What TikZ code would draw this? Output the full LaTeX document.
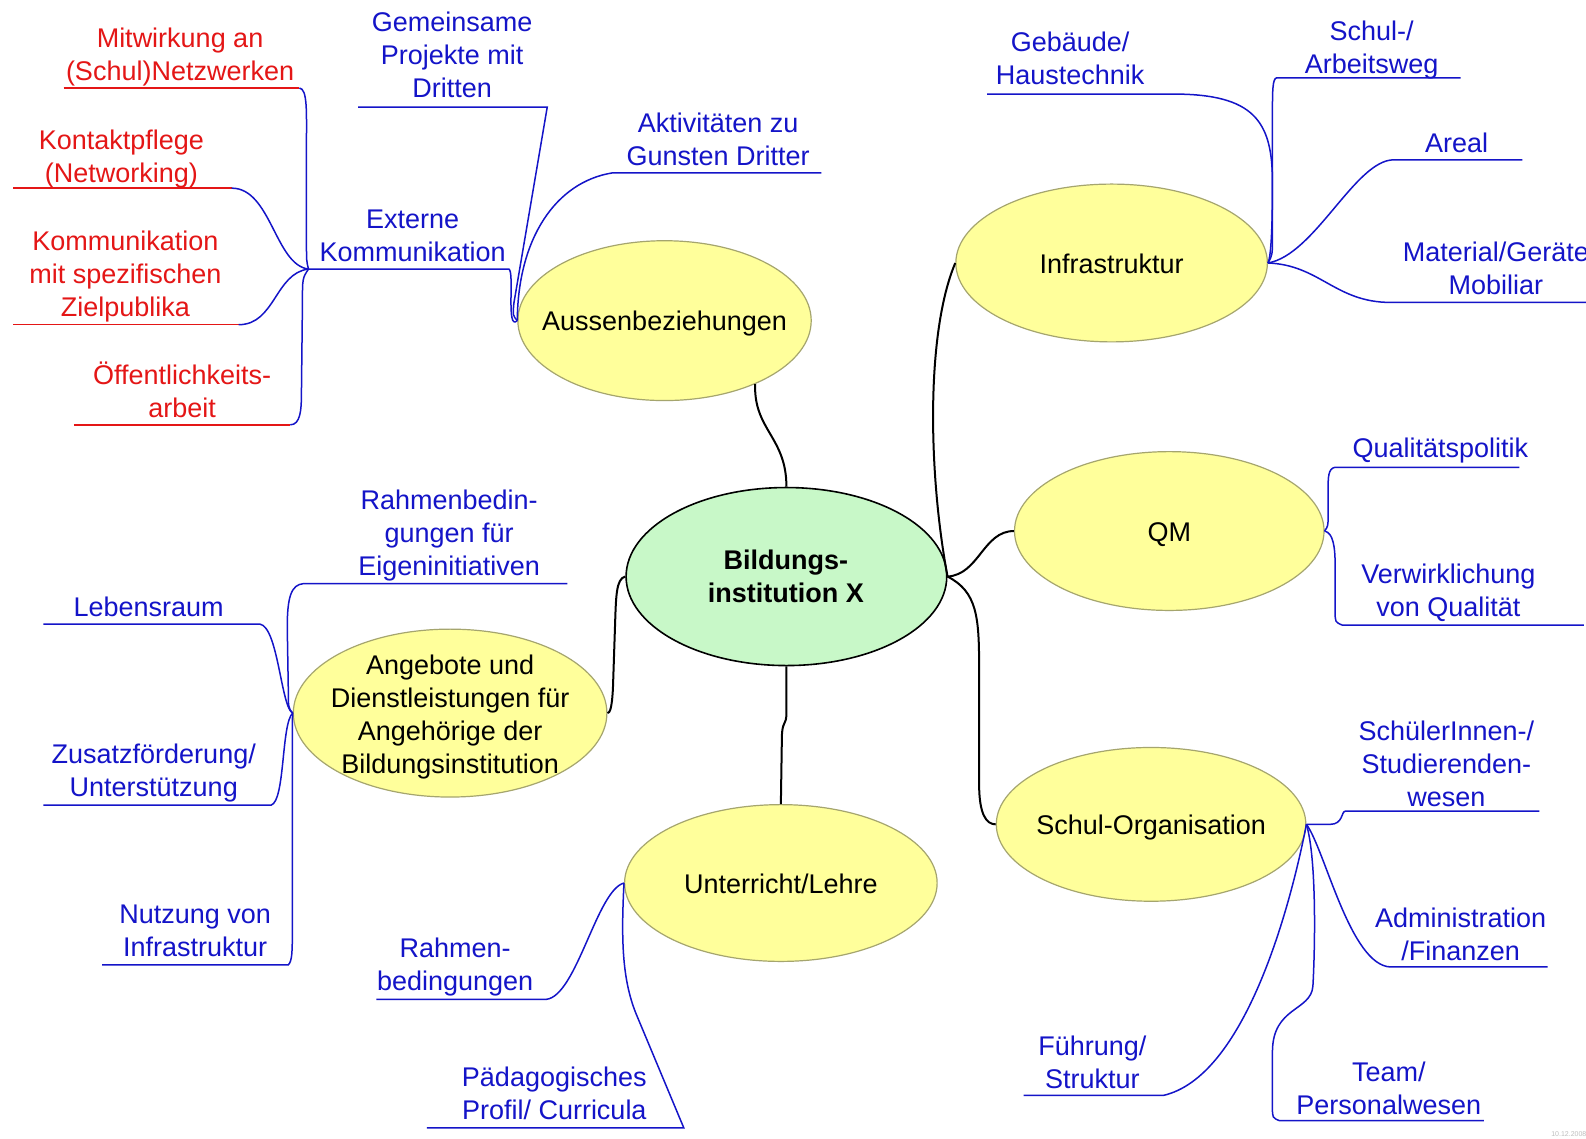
\documentclass[tikz,border=0pt]{standalone}
\usepackage{fontspec}
\setmainfont{Liberation Sans}
\usetikzlibrary{shapes.geometric}
\newcommand\pxu{0.50575pt}
\newcommand\lstrut{\rule{0pt}{13.5pt}}
\definecolor{mmblue}{RGB}{20,20,200}
\definecolor{mmred}{RGB}{228,22,22}
\definecolor{yfill}{RGB}{255,255,155}
\definecolor{ybord}{RGB}{165,165,110}
\definecolor{gfill}{RGB}{200,248,200}
\tikzset{
  topic/.style={ellipse, draw=ybord, fill=yfill, line width=0.6pt, inner sep=0pt},
  centre/.style={ellipse, draw=black, fill=gfill, line width=0.8pt, inner sep=0pt},
  lbl/.style={align=center, inner sep=0pt, anchor=north, font=\fontsize{13.5pt}{16.5pt}\selectfont},
  bl/.style={lbl, text=mmblue},
  rd/.style={lbl, text=mmred},
  bk/.style={lbl, text=black},
  bline/.style={draw=mmblue, line width=0.75pt},
  rline/.style={draw=mmred, line width=0.75pt},
  kline/.style={draw=black, line width=1pt},
}
\begin{document}
\begin{tikzpicture}[x=\pxu, y=-\pxu]
\useasboundingbox (0,0) rectangle (1568,1126);
\fill[white] (0,0) rectangle (1568,1126);

% ellipses
\node[centre, minimum width=317*\pxu, minimum height=176*\pxu] (cen) at (777.5,570) {};
\node[topic, minimum width=290*\pxu, minimum height=158*\pxu] (aus) at (657,317) {};
\node[topic, minimum width=308*\pxu, minimum height=156*\pxu] (inf) at (1099,260) {};
\node[topic, minimum width=306*\pxu, minimum height=157*\pxu] (qm) at (1156,525) {};
\node[topic, minimum width=306*\pxu, minimum height=152*\pxu] (org) at (1138,815) {};
\node[topic, minimum width=309*\pxu, minimum height=155*\pxu] (unt) at (772,873) {};
\node[topic, minimum width=310*\pxu, minimum height=166*\pxu] (ang) at (445,705) {};

% ellipse texts
\node[bk, font=\fontsize{13.5pt}{16.5pt}\selectfont\bfseries] (tcen) at (777,536) {\lstrut Bildungs-\\institution X};
\node[bk] (taus) at (657,300) {\lstrut Aussenbeziehungen};
\node[bk] (tinf) at (1099,243) {\lstrut Infrastruktur};
\node[bk] (tqm) at (1156,508) {\lstrut QM};
\node[bk] (torg) at (1138,798) {\lstrut Schul-Organisation};
\node[bk] (tunt) at (772,856) {\lstrut Unterricht/Lehre};
\node[bk] (tang) at (445,640) {\lstrut Angebote und\\Dienstleistungen für\\Angehörige der\\Bildungsinstitution};

% labels
\node[rd] (mit) at (178,20) {\lstrut Mitwirkung an\\(Schul)Netzwerken};
\node[rd] (kon) at (120,121) {\lstrut Kontaktpflege\\(Networking)};
\node[rd] (kom) at (124,221) {\lstrut Kommunikation\\mit spezifischen\\Zielpublika};
\node[rd] (oef) at (180,353) {\lstrut Öffentlichkeits-\\arbeit};
\node[bl] (gem) at (447,4) {\lstrut Gemeinsame\\Projekte mit\\Dritten};
\node[bl] (akt) at (710,104) {\lstrut Aktivitäten zu\\Gunsten Dritter};
\node[bl] (ext) at (408,199) {\lstrut Externe\\Kommunikation};
\node[bl] (geb) at (1058,24) {\lstrut Gebäude/\\Haustechnik};
\node[bl] (sch) at (1356,13) {\lstrut Schul-/\\Arbeitsweg};
\node[bl] (are) at (1440,124) {\lstrut Areal};
\node[bl] (mat) at (1479,231) {\lstrut Material/Geräte\\Mobiliar};
\node[bl] (qpol) at (1424,425) {\lstrut Qualitätspolitik};
\node[bl] (verw) at (1432,550) {\lstrut Verwirklichung\\von Qualität};
\node[bl] (schu) at (1430,705) {\lstrut SchülerInnen-/\\Studierenden-\\wesen};
\node[bl] (adm) at (1444,890) {\lstrut Administration\\/Finanzen};
\node[bl] (team) at (1373,1042) {\lstrut Team/\\Personalwesen};
\node[bl] (fuehr) at (1080,1016) {\lstrut Führung/\\Struktur};
\node[bl] (rahm) at (450,920) {\lstrut Rahmen-\\bedingungen};
\node[bl] (paed) at (548,1047) {\lstrut Pädagogisches\\Profil/ Curricula};
\node[bl] (rbed) at (444,477) {\lstrut Rahmenbedin-\\gungen für\\Eigeninitiativen};
\node[bl] (leb) at (147,582) {\lstrut Lebensraum};
\node[bl] (zus) at (152,728) {\lstrut Zusatzförderung/\\Unterstützung};
\node[bl] (nutz) at (193,886) {\lstrut Nutzung von\\Infrastruktur};
\node[text=black!25, font=\fontsize{3.5pt}{4pt}\selectfont, inner sep=0pt] (date) at (1551,1121) {10.12.2008};

% black connectors
\draw[kline] (cen.north) .. controls (777.5,432) and (745,425) .. (aus.-35);
\draw[kline] (cen.east) .. controls (918,470) and (915,330) .. (inf.west);
\draw[kline] (cen.east) .. controls (968,568) and (972,525) .. (qm.west);
\draw[kline] (cen.east) .. controls (966,585) and (968,610) .. (968,660) -- (968,775) .. controls (968,805) and (975,815) .. (org.west);
\draw[kline] (cen.west) .. controls (609,572) and (609,590) .. (608,620) -- (606,680) .. controls (605,700) and (603,705) .. (ang.east);
\draw[kline] (cen.south) -- (777.5,705) .. controls (777.5,718) and (773,712) .. (773,730) -- (unt.north);

% Aussenbeziehungen
\coordinate (extL) at (305,266); \coordinate (extR) at (503,266);
\draw[bline] (extL) -- (extR) .. controls (509,268) and (500,328) .. (aus.west);
\coordinate (gemL) at (354,106); \coordinate (gemR) at (541,106);
\draw[bline] (gemL) -- (gemR) -- (508,300) .. controls (507,312) .. (aus.west);
\coordinate (aktL) at (605,171); \coordinate (aktR) at (812,171);
\draw[bline] (aktR) -- (aktL) .. controls (550,180) and (512,235) .. (aus.west);

% Externe Kommunikation
\coordinate (mitL) at (63,87); \coordinate (mitR) at (296,87);
\draw[rline] (mitL) -- (mitR);
\draw[bline] (mitR) .. controls (304,88) and (303,110) .. (303,140) -- (303,240) .. controls (303,258) .. (extL);
\coordinate (konL) at (13,186); \coordinate (konR) at (229,186);
\draw[rline] (konL) -- (konR);
\draw[bline] (konR) .. controls (268,186) and (272,262) .. (extL);
\coordinate (komL) at (13,321); \coordinate (komR) at (236,321);
\draw[rline] (komL) -- (komR);
\draw[bline] (komR) .. controls (272,321) and (272,270) .. (extL);
\coordinate (oefL) at (73,420); \coordinate (oefR) at (287,420);
\draw[rline] (oefL) -- (oefR);
\draw[bline] (oefR) .. controls (297,420) and (298,405) .. (298,390) -- (299,300) .. controls (299,275) .. (extL);

% Infrastruktur
\coordinate (gebL) at (976,93); \coordinate (gebR) at (1160,93);
\draw[bline] (gebL) -- (gebR) .. controls (1240,93) and (1258,120) .. (1258,180) .. controls (1258,235) and (1256,255) .. (inf.east);
\coordinate (schL) at (1262,77); \coordinate (schR) at (1444,77);
\draw[bline] (schR) -- (schL) .. controls (1258,78) and (1258,90) .. (1258,115) -- (1258,235) .. controls (1258,252) .. (inf.east);
\coordinate (areL) at (1378,158); \coordinate (areR) at (1505,158);
\draw[bline] (areR) -- (areL) .. controls (1340,158) and (1300,252) .. (inf.east);
\coordinate (matL) at (1375,299); \coordinate (matR) at (1568,299);
\draw[bline] (matR) -- (matL) .. controls (1320,299) and (1305,262) .. (inf.east);

% QM
\coordinate (qpL) at (1320,462); \coordinate (qpR) at (1502,462);
\draw[bline] (qpR) -- (qpL) .. controls (1313,463) and (1313,472) .. (1313,485) -- (1313,510) .. controls (1313,520) .. (qm.east);
\coordinate (vwL) at (1327,618); \coordinate (vwR) at (1566,618);
\draw[bline] (qm.east) .. controls (1318,527) and (1320,540) .. (1320,560) -- (1320,605) .. controls (1320,615) .. (vwL) -- (vwR);

% Schul-Organisation
\coordinate (suL) at (1330,802); \coordinate (suR) at (1522,802);
\draw[bline] (org.east) -- (1315,815) .. controls (1328,815) and (1326,802) .. (suL) -- (suR);
\coordinate (adL) at (1375,956); \coordinate (adR) at (1530,956);
\draw[bline] (org.east) .. controls (1310,840) and (1335,955) .. (adL) -- (adR);
\coordinate (tmL) at (1265,1108); \coordinate (tmR) at (1467,1108);
\draw[bline] (org.east) .. controls (1302,850) and (1300,940) .. (1298,975) .. controls (1296,1000) and (1258,995) .. (1258,1040) -- (1258,1095) .. controls (1258,1105) .. (tmL) -- (tmR);
\coordinate (fuL) at (1012,1083); \coordinate (fuR) at (1150,1083);
\draw[bline] (fuL) -- (fuR) .. controls (1230,1065) and (1275,900) .. (org.east);

% Unterricht/Lehre
\coordinate (raL) at (372,988); \coordinate (raR) at (540,988);
\draw[bline] (raL) -- (raR) .. controls (570,985) and (590,880) .. (unt.west);
\coordinate (paL) at (422,1115); \coordinate (paR) at (676,1115);
\draw[bline] (paL) -- (paR) -- (630,1005) .. controls (615,970) and (614,930) .. (unt.west);

% Angebote
\coordinate (rbL) at (300,577); \coordinate (rbR) at (561,577);
\draw[bline] (rbR) -- (rbL) .. controls (288,578) and (284,590) .. (284,620) -- (285,680) .. controls (285,700) .. (ang.west);
\coordinate (leL) at (43,617); \coordinate (leR) at (257,617);
\draw[bline] (leL) -- (leR) .. controls (275,620) and (278,700) .. (ang.west);
\coordinate (zuL) at (43,796); \coordinate (zuR) at (268,796);
\draw[bline] (zuL) -- (zuR) .. controls (282,792) and (278,715) .. (ang.west);
\coordinate (nuL) at (101,954); \coordinate (nuR) at (285,954);
\draw[bline] (nuL) -- (nuR) .. controls (289,950) and (289,940) .. (289,920) -- (289,725) .. controls (289,712) .. (ang.west);
\end{tikzpicture}
\end{document}
